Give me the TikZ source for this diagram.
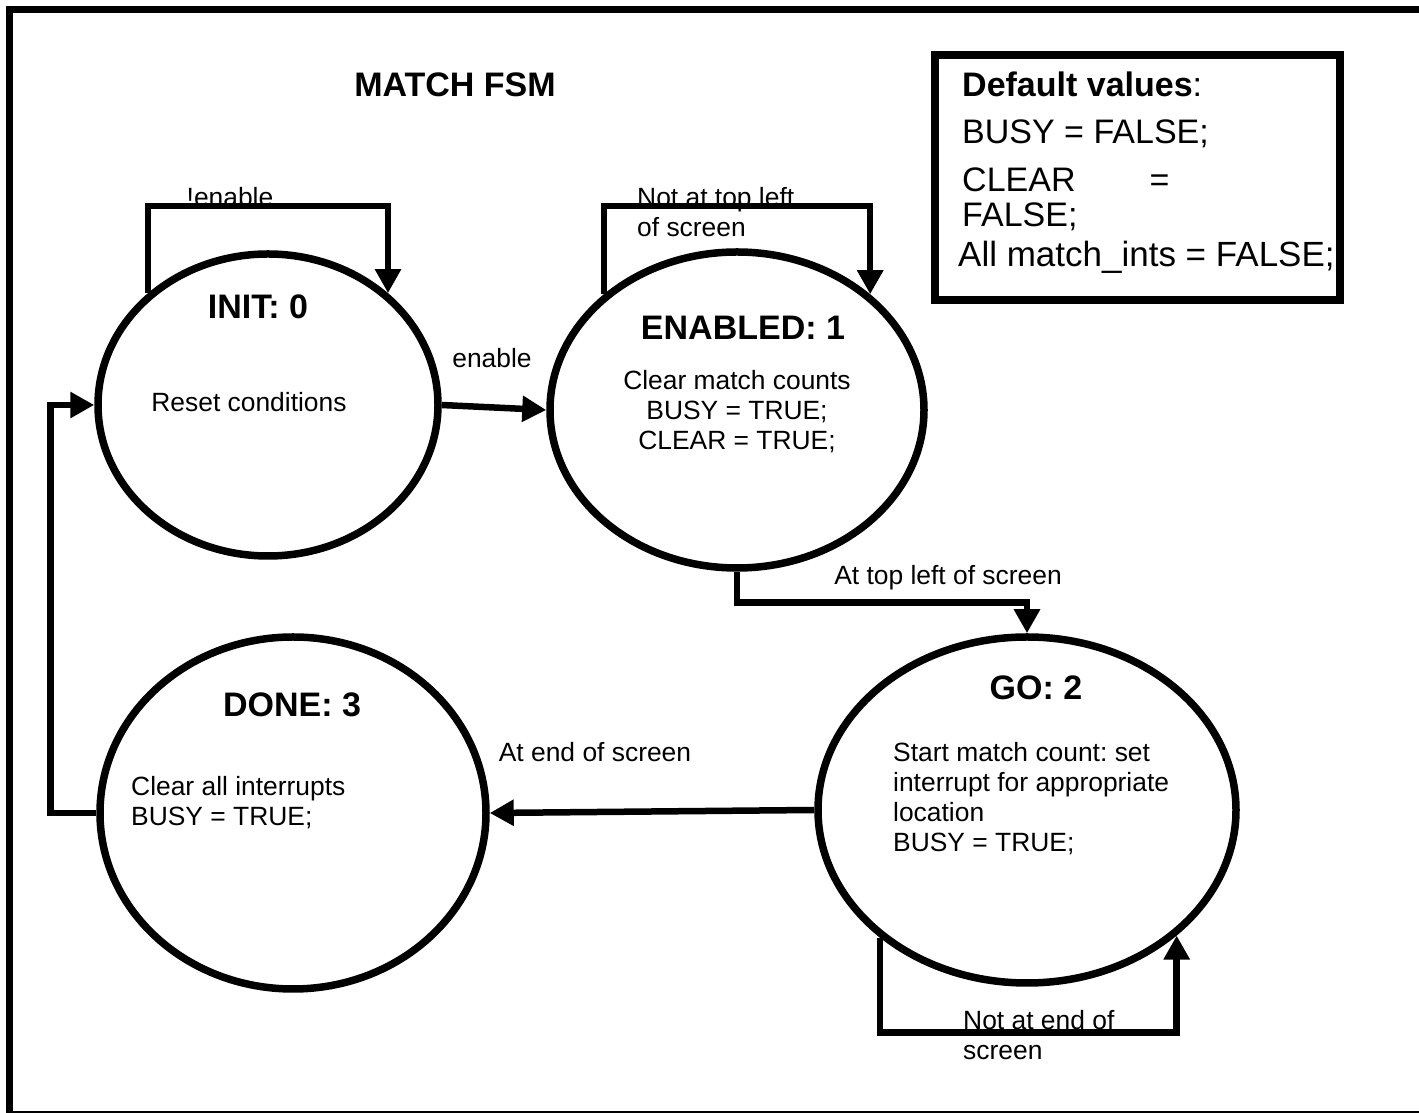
\documentclass[tikz,border=0pt]{standalone}
\usepackage{fontspec}
\setmainfont{Liberation Sans}
\usetikzlibrary{shapes.geometric,calc,arrows.meta,positioning}

\begin{document}
\frenchspacing
\begin{tikzpicture}[x=1pt, y=1pt, >={Triangle[length=24pt, width=25pt]}]

\tikzstyle{state}=[draw, ellipse, line width=7.5pt, inner sep=0pt]
\tikzstyle{cr}=[line width=6.5pt]
\tikzstyle{ttl}=[inner sep=0pt, font=\fontsize{34}{40}\selectfont\bfseries]
\tikzstyle{txt}=[inner sep=0pt, font=\fontsize{26.4}{30}\selectfont]

\useasboundingbox (0,0) rectangle (1419,1113);
\clip (0,0) rectangle (1419,1113);

% frame
\draw[line width=7pt] (1440,-1.5) -- (9,-1.5) -- (9,1103) -- (1440,1103);

\node(title)[ttl] at (455,1028) {MATCH FSM};

% default values
\node(DEF)[draw, line width=8pt, minimum width=405pt, minimum height=245pt, inner sep=0pt] at (1137.5,935.5) {};
\node(DEFt)[inner sep=0pt, anchor=north west, align=left, font=\fontsize{34}{40}\selectfont] at ($(DEF.north west)+(31,-21)$) {\textbf{Default values}:\\[7pt]BUSY = FALSE;\\[8pt]CLEAR\hspace{74pt}=\\[-5pt]FALSE;\\\hspace*{-4pt}{\fontsize{35}{40}\selectfont All match\_ints = FALSE;}};

% states
\node(INIT)[state, minimum width=340pt, minimum height=302pt] at (268,708) {};
\node(INITt)[ttl] at ($(INIT.center)+(-10,98)$) {INIT: 0};
\node(INITb)[txt] at ($(INIT.center)+(-19,3)$) {Reset conditions};

\node(EN)[state, minimum width=374pt, minimum height=316pt] at (737,703) {};
\node(ENt)[ttl] at ($(EN.center)+(6,82)$) {ENABLED: 1};
\node(ENb)[txt, align=center] at ($(EN.center)+(0,-2)$) {Clear match counts\\BUSY = TRUE;\\CLEAR = TRUE;};

\node(GO)[state, minimum width=418pt, minimum height=346pt] at (1027,303) {};
\node(GOt)[ttl] at ($(GO.center)+(9,122)$) {GO: 2};
\node(GOb)[txt, align=left, anchor=west] at ($(GO.center)+(-134,11)$) {Start match count: set\\interrupt for appropriate\\location\\BUSY = TRUE;};

\node(DONE)[state, minimum width=386pt, minimum height=352pt] at (293,300) {};
\node(DONEt)[ttl] at ($(DONE.center)+(-1,108)$) {DONE: 3};
\node(DONEb)[txt, align=left, anchor=west] at ($(DONE.center)+(-162,10)$) {Clear all interrupts\\BUSY = TRUE;};

% labels
\node(L0)[txt] at (230,916) {!enable};
\node(L1)[txt] at (492,755) {enable};
\node(L2)[txt, align=left, anchor=west] at (637,901) {Not at top left\\of screen};
\node(L3)[txt] at (948,535) {At top left of screen};
\node(L4)[txt] at (595,361) {At end of screen};
\node(L5)[txt, align=left, anchor=west] at (963,78) {Not at end of\\screen};

% arrows
\coordinate(INITtop) at ($(INIT.north)+(0,44)$);
\coordinate(ENtop) at ($(EN.north)+(0,42)$);
\coordinate(GObot) at ($(GO.south)+(0,-46)$);

\draw[->, cr] (INIT.137) |- (INITtop) -| (INIT.43);
\draw[->, cr] (EN.139) |- (ENtop) -| (EN.41);
\draw[->, cr] (GO.221) |- (GObot) -| (GO.320);

\draw[->, cr] (INIT.east) -- (EN.west);
\draw[->, cr] (EN.south) -- ++(0,-31) -| (GO.north);
\draw[->, cr] (GO.west) -- (DONE.east);
\draw[->, cr] (DONE.west) -- ++(-46,0) |- (INIT.west);

\end{tikzpicture}
\end{document}
